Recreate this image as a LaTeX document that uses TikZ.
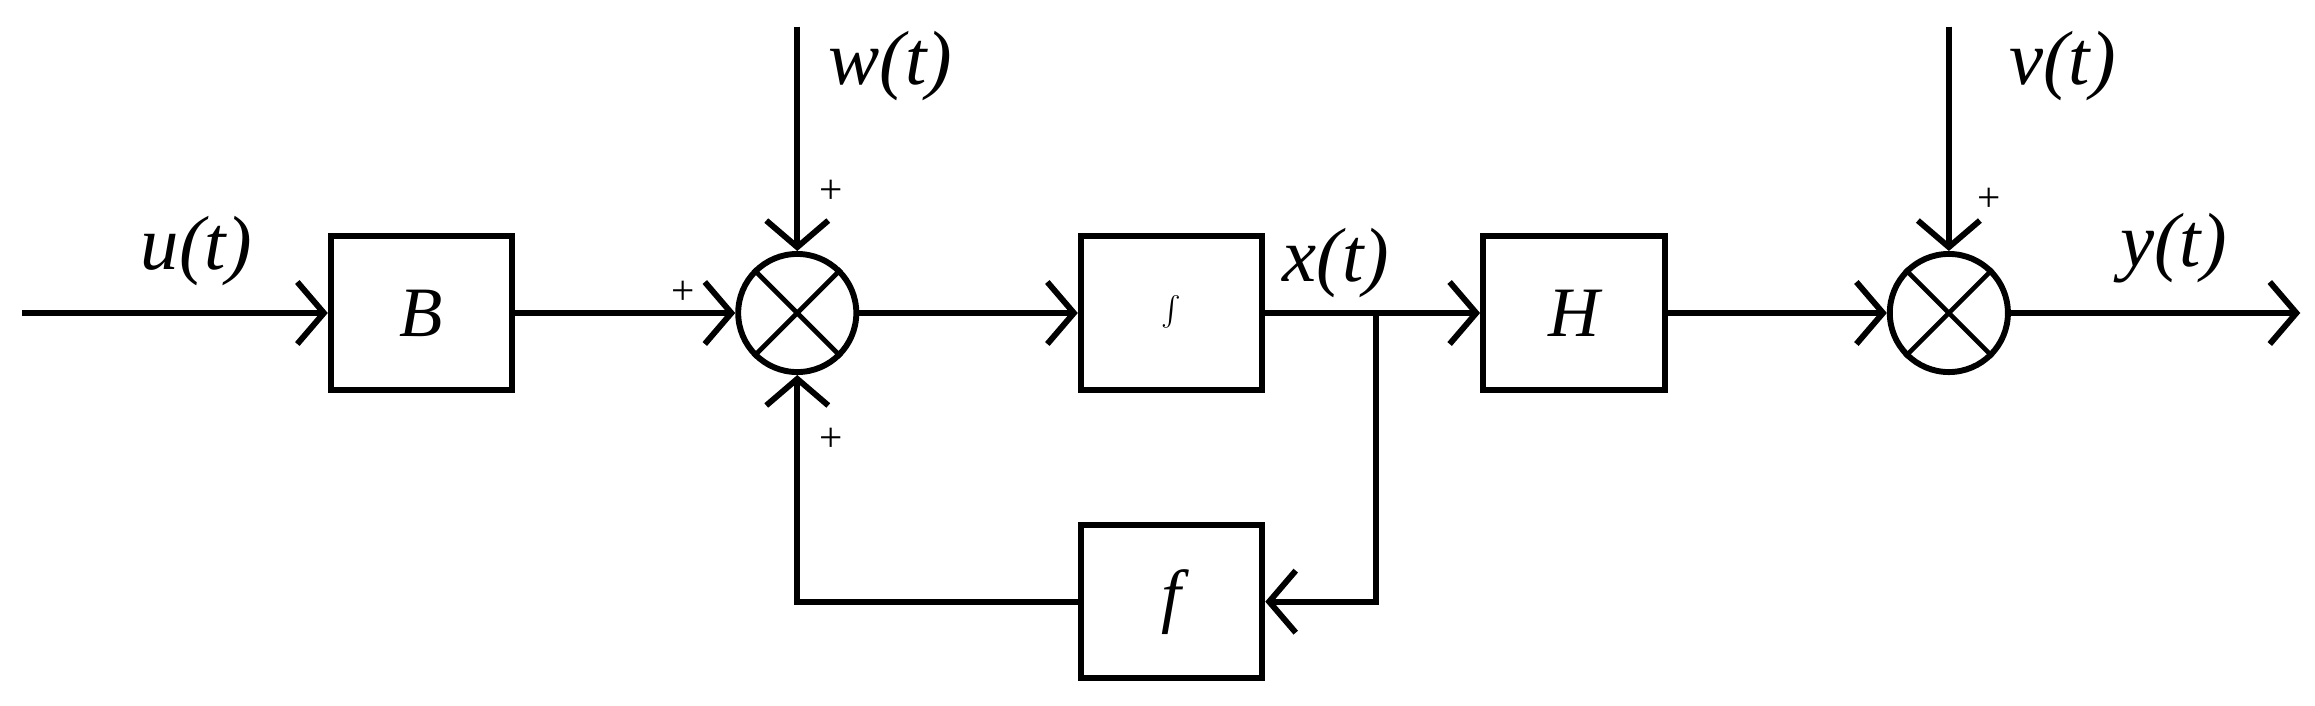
\documentclass[tikz,border=0pt]{standalone}
\usepackage{fontspec}
\setmainfont{Liberation Serif}
\usetikzlibrary{arrows.meta}
\begin{document}
\begin{tikzpicture}[x=0.5pt,y=-0.5pt,
  line width=2pt,
  arr/.style={-{Straight Barb[length=9pt,width=21pt,line width=2pt]}},
  blk/.style={draw,minimum width=61.5pt,minimum height=52pt,inner sep=0pt,font=\fontsize{24}{26}\selectfont\itshape},
  sum/.style={draw,circle,minimum size=40pt,inner sep=0pt},
  lbl/.style={font=\fontsize{26}{28}\selectfont\itshape,inner sep=0pt},
  pl/.style={font=\fontsize{14}{16}\selectfont,inner sep=0pt}]
\useasboundingbox (0,0) rectangle (1568,478);
\node[blk] (B) at (285.5,212) {B};
\node[blk] (I) at (793.5,212) {$\int$};
\node[blk] (H) at (1066,212) {H};
\node[blk] (F) at (793.5,407.5) {f};
\node[sum] (S1) at (540,212) {};
\node[sum] (S2) at (1320,212) {};
\foreach \s in {S1,S2}{
  \draw[line width=1.6pt] (\s.45) -- (\s.225) (\s.135) -- (\s.315);}
\coordinate (in) at (15,212);
\coordinate (wt) at (540,18);
\coordinate (vt) at (1320,18);
\coordinate (out) at (1558,212);
\coordinate (br) at (932,212);
\coordinate (br2) at (932,407.5);
\coordinate (fb) at (540,407.5);
\draw[arr] (in) -- (B.west);
\draw[arr] (B.east) -- (S1.west);
\draw[arr] (wt) -- (S1.north);
\draw[arr] (S1.east) -- (I.west);
\draw[arr] (I.east) -- (H.west);
\draw[arr] (H.east) -- (S2.west);
\draw[arr] (vt) -- (S2.north);
\draw[arr] (S2.east) -- (out);
\draw[arr] (br) -- (br2) -- (F.east);
\draw[arr] (F.west) -- (fb) -- (S1.south);
\node[lbl] (lu) at (133,170) {u(t)};
\node[lbl] (lw) at (603,45) {w(t)};
\node[lbl] (lx) at (905,178) {x(t)};
\node[lbl] (lv) at (1397,45) {v(t)};
\node[lbl] (ly) at (1472,168) {y(t)};
\node[pl] (p1) at (463,198) {+};
\node[pl] (p2) at (563,130) {+};
\node[pl] (p3) at (563,298) {+};
\node[pl] (p4) at (1347,135) {+};
\end{tikzpicture}
\end{document}
